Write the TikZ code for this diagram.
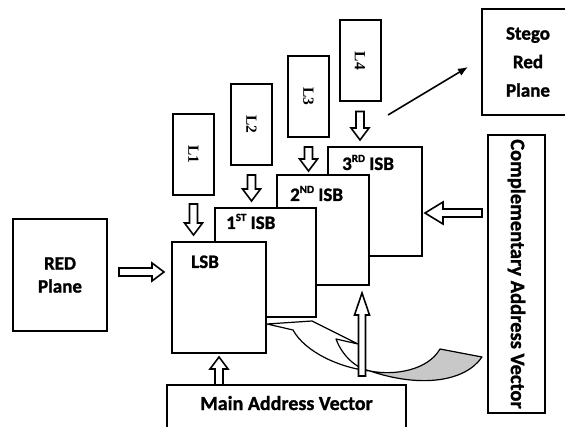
\documentclass[tikz,border=0pt]{standalone}
\usepackage{graphicx}
\usepackage{fontspec}
\setmainfont{Carlito}[BoldFeatures={FakeBold=1.2}]
\newfontfamily\lfont{Liberation Serif}
\usepackage{tikz}
\usetikzlibrary{arrows.meta,positioning,calc}
\definecolor{ribbongray}{RGB}{200,200,200}
\newcommand{\sps}[1]{\raisebox{8pt}{\fontsize{11}{11}\selectfont #1}}

\begin{document}
\begin{tikzpicture}[
  x=1pt,y=-1pt,
  font=\fontsize{19}{23}\selectfont\bfseries,
  box/.style={draw,line width=2pt,fill=white,inner sep=0pt},
  lbox/.style={box,minimum width=41pt,minimum height=81pt,
    font=\lfont\fontsize{15.5}{16}\selectfont\bfseries},
  isb/.style={box,minimum width=94pt,minimum height=109pt},
  tag/.style={anchor=base west,inner sep=0pt},
  shaft half/.store in=\arrshaft, shaft half=4pt,
  head half/.store in=\arrhead, head half=9pt,
  head len/.store in=\arrlen, head len=12pt,
  hollow/.style={draw,fill=white,line width=1.6pt,line join=miter,
    to path={
      ($(\tikztostart)!\arrshaft!90:(\tikztotarget)$)
      -- ($($(\tikztotarget)!\arrlen!(\tikztostart)$)!\arrshaft!90:(\tikztotarget)$)
      -- ($($(\tikztotarget)!\arrlen!(\tikztostart)$)!\arrhead!90:(\tikztotarget)$)
      -- (\tikztotarget)
      -- ($($(\tikztotarget)!\arrlen!(\tikztostart)$)!\arrhead!-90:(\tikztotarget)$)
      -- ($($(\tikztotarget)!\arrlen!(\tikztostart)$)!\arrshaft!-90:(\tikztotarget)$)
      -- ($(\tikztostart)!\arrshaft!-90:(\tikztotarget)$)
      -- cycle}},
  ribbon/.style={draw,line width=1.2pt,line join=round}
]
  \useasboundingbox (0,0) rectangle (565,427);

  % outer boxes
  \node[box,minimum width=94pt,minimum height=112pt,align=center] (red) at (60,275)
    {RED\\Plane};
  \node[box,minimum width=92pt,minimum height=106pt,align=center,
    font=\fontsize{19}{28.5}\selectfont\bfseries] (stego) at (528,62)
    {Stego\\Red\\Plane};
  \node[box,minimum width=57pt,minimum height=278pt,font=\fontsize{20.5}{22}\selectfont\bfseries]
    (cav) at (516.5,274) {\rotatebox{-90}{Complementary Address Vector}};
  \node[box,minimum width=239pt,minimum height=50pt,text height=6pt,text depth=6pt,
    font=\fontsize{20}{22}\selectfont\bfseries] (mav) at (286.5,410) {Main Address Vector};

  % bit planes, back to front
  \node[isb] (isb3) at (375,201.5) {};
  \node[isb,minimum width=92pt,minimum height=110pt] (isb2) at (323,230) {};
  \node[isb,minimum width=101pt] (isb1) at (265.5,262.5) {};
  \node[isb,minimum height=111pt] (lsb) at (219,297.5) {};
  \node[tag] at ([shift={(15,24)}]isb3.north west) {3\sps{RD} ISB};
  \node[tag] at ([shift={(14,27)}]isb2.north west) {2\sps{ND} ISB};
  \node[tag] at ([shift={(12,22)}]isb1.north west) {1\sps{ST} ISB};
  \node[tag] at ([shift={(20,27)}]lsb.north west) {LSB};

  % layers
  \node[lbox] (l1) at (193.5,154.5) {\rotatebox{-90}{L1}};
  \node[lbox] (l2) at (251.5,124.5) {\rotatebox{-90}{L2}};
  \node[lbox] (l3) at (308.5,96.5) {\rotatebox{-90}{L3}};
  \node[lbox] (l4) at (360,61) {\rotatebox{-90}{L4}};

  % twisted return ribbon
  \draw[ribbon,fill=ribbongray] (370,371) .. controls (395,376) and (428,370) .. (440,349)
    -- (482,357) .. controls (465,382) and (420,388) .. (370,371) -- cycle;
  \draw[ribbon,fill=white] (267,324) -- (312,321) -- (358,344) -- (336,339)
    .. controls (342,355) and (355,368) .. (370,371)
    .. controls (340,368) and (305,352) .. (293,330) -- cycle;
  \coordinate (twist) at (362,376);
  \coordinate (out) at (388,115);

  \draw[hollow] ([yshift=-8pt]l1.south) to ([yshift=6pt]l1.south |- lsb.north);
  \draw[hollow] ([yshift=-9pt]l2.south) to ([yshift=6pt]l2.south |- isb1.north);
  \draw[hollow] ([yshift=-9pt]l3.south) to ([yshift=3pt]l3.south |- isb2.north);
  \draw[hollow] ([yshift=-9pt]l4.south) to ([yshift=6pt]l4.south |- isb3.north);
  \draw[hollow] ([xshift=11pt,yshift=3pt]red.east) to ([xshift=-7pt,yshift=3pt]red.east -| lsb.west);
  \draw[hollow,head half=11pt,head len=18pt] ([xshift=-5pt,yshift=-11.5pt]cav.west |- isb3.east)
    to ([xshift=2pt,yshift=-11.5pt]isb3.east);
  \draw[hollow] ([yshift=-1pt]lsb.south |- mav.north) to ([yshift=-3pt]lsb.south);
  \draw[hollow,shaft half=3.5pt,head half=7.5pt,head len=22pt] (twist)
    to ([yshift=-7pt]isb2.south -| twist);
  \draw[-{Latex[length=10pt,width=8pt]},line width=1.6pt] (out)
    -- ([xshift=-13pt,yshift=-5pt]stego.west);
\end{tikzpicture}
\end{document}
